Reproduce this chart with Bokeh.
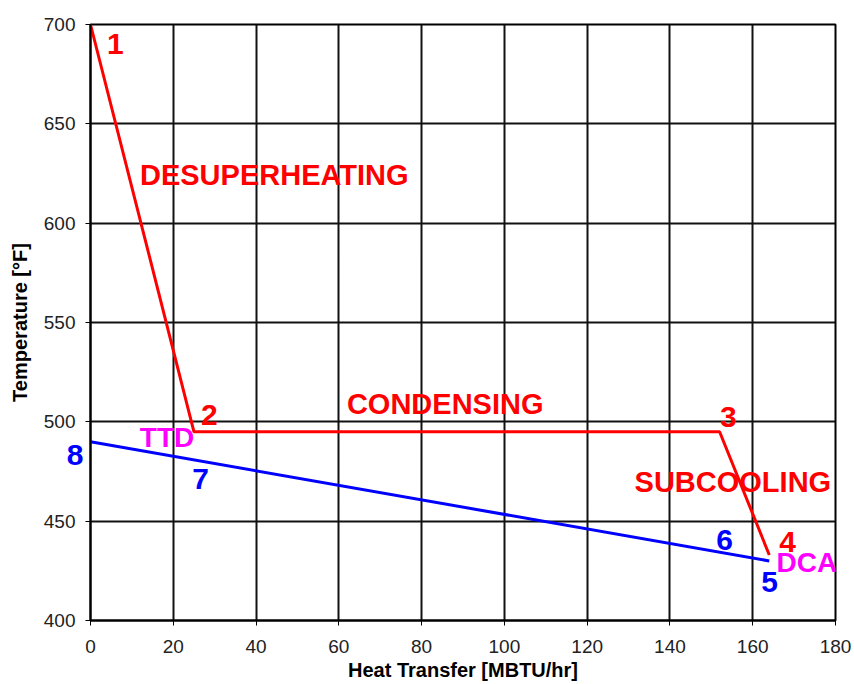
from bokeh.plotting import figure
from bokeh.models import Range1d, FixedTicker, LinearAxis
from bokeh.core.properties import value
from bokeh.embed import file_html
from bokeh.resources import INLINE

# Shell side (red) temperature profile
shell_x = [0, 25, 152, 164]
shell_y = [700, 495, 495, 433]
# Tube side (blue) temperature profile
tube_x = [0, 164]
tube_y = [490, 430]

x_ticks = [0, 20, 40, 60, 80, 100, 120, 140, 160, 180]
y_ticks = [400, 450, 500, 550, 600, 650, 700]

red_words = ["DESUPERHEATING", "CONDENSING", "SUBCOOLING"]
red_words_x = [44.4, 85.7, 155.2]
red_words_y = [624.0, 508.8, 469.7]

red_nums = ["1", "2", "3", "4"]
red_nums_x = [6.0, 28.7, 154.1, 168.4]
red_nums_y = [690.4, 503.2, 502.2, 439.5]

blue_nums = ["5", "6", "7", "8"]
blue_nums_x = [164.1, 153.2, 26.6, -3.4]
blue_nums_y = [419.3, 440.7, 471.0, 483.1]

mag_words = ["TTD", "DCA"]
mag_words_x = [18.5, 173.1]
mag_words_y = [492.0, 429.4]

p = figure(width=854, height=684, output_backend="svg", toolbar_location=None,
           x_range=Range1d(0, 180), y_range=Range1d(400, 700),
           min_border_left=90, min_border_right=19, min_border_top=24, min_border_bottom=64)

p.background_fill_color = "white"
p.border_fill_color = "white"
p.outline_line_color = "black"
p.outline_line_width = 2

xax = p.xaxis[0]
yax = p.yaxis[0]
for ax in (xax, yax):
    ax.major_label_text_font = "Liberation Sans"
    ax.major_label_text_font_size = "19px"
    ax.major_label_text_color = "#222222"
    ax.axis_label_text_font = "Liberation Sans"
    ax.axis_label_text_font_style = "bold"
    ax.axis_label_text_font_size = "20px"
    ax.axis_label_text_color = "black"
    ax.axis_line_color = "black"
    ax.axis_line_width = 2
    ax.major_tick_line_color = "black"
    ax.major_tick_out = 5
    ax.major_tick_in = 0
    ax.minor_tick_line_color = None

xax.ticker = FixedTicker(ticks=x_ticks)
xax.axis_label = "Heat Transfer [MBTU/hr]"
xax.major_label_standoff = 14
xax.axis_label_standoff = 3

# Left side: an inner axis carries the frame-side tick marks and the blue "8"
# (which sits outside the plot frame); the outer axis carries the tick labels.
outside = [i for i, bx in enumerate(blue_nums_x) if bx < 0]
inside = [i for i, bx in enumerate(blue_nums_x) if bx >= 0]
o_ticks = [blue_nums_y[i] for i in outside]
inner = LinearAxis(ticker=FixedTicker(ticks=o_ticks, minor_ticks=y_ticks),
                   major_label_overrides={blue_nums_y[i]: blue_nums[i] for i in outside},
                   major_label_text_color="#0000FF",
                   major_label_text_font="Liberation Sans",
                   major_label_text_font_style="bold",
                   major_label_text_font_size="30px",
                   major_label_standoff=2,
                   major_tick_out=0, major_tick_in=0, major_tick_line_color=None,
                   minor_tick_out=5, minor_tick_in=0, minor_tick_line_color="black",
                   axis_line_color="black", axis_line_width=2)

yax.ticker = FixedTicker(ticks=y_ticks)
yax.axis_label = "Temperature [°F]"
yax.axis_line_color = None
yax.major_tick_line_color = None
yax.major_tick_out = 0
yax.major_label_standoff = -12
yax.axis_label_standoff = 10
p.left = [inner] + list(p.left)

p.xgrid.ticker = FixedTicker(ticks=x_ticks)
p.ygrid.ticker = FixedTicker(ticks=y_ticks)
for g in (p.xgrid[0], p.ygrid[0]):
    g.grid_line_color = "#111111"
    g.grid_line_width = 2

p.line(shell_x, shell_y, line_color="#FF0000", line_width=3)
p.line(tube_x, tube_y, line_color="#0000FF", line_width=3)

font = value("Liberation Sans")
p.text(x=red_words_x, y=red_words_y, text=red_words, text_color="#FF0000",
       text_font=font, text_font_style="bold", text_font_size="29px",
       text_align="center", text_baseline="middle")
p.text(x=red_nums_x, y=red_nums_y, text=red_nums, text_color="#FF0000",
       text_font=font, text_font_style="bold", text_font_size="30px",
       text_align="center", text_baseline="middle")
p.text(x=[blue_nums_x[i] for i in inside], y=[blue_nums_y[i] for i in inside],
       text=[blue_nums[i] for i in inside], text_color="#0000FF",
       text_font=font, text_font_style="bold", text_font_size="30px",
       text_align="center", text_baseline="middle")
p.text(x=mag_words_x, y=mag_words_y, text=mag_words, text_color="#FF00FF",
       text_font=font, text_font_style="bold", text_font_size="28px",
       text_align="center", text_baseline="middle")

open("out.html", "w").write(file_html(p, INLINE))
